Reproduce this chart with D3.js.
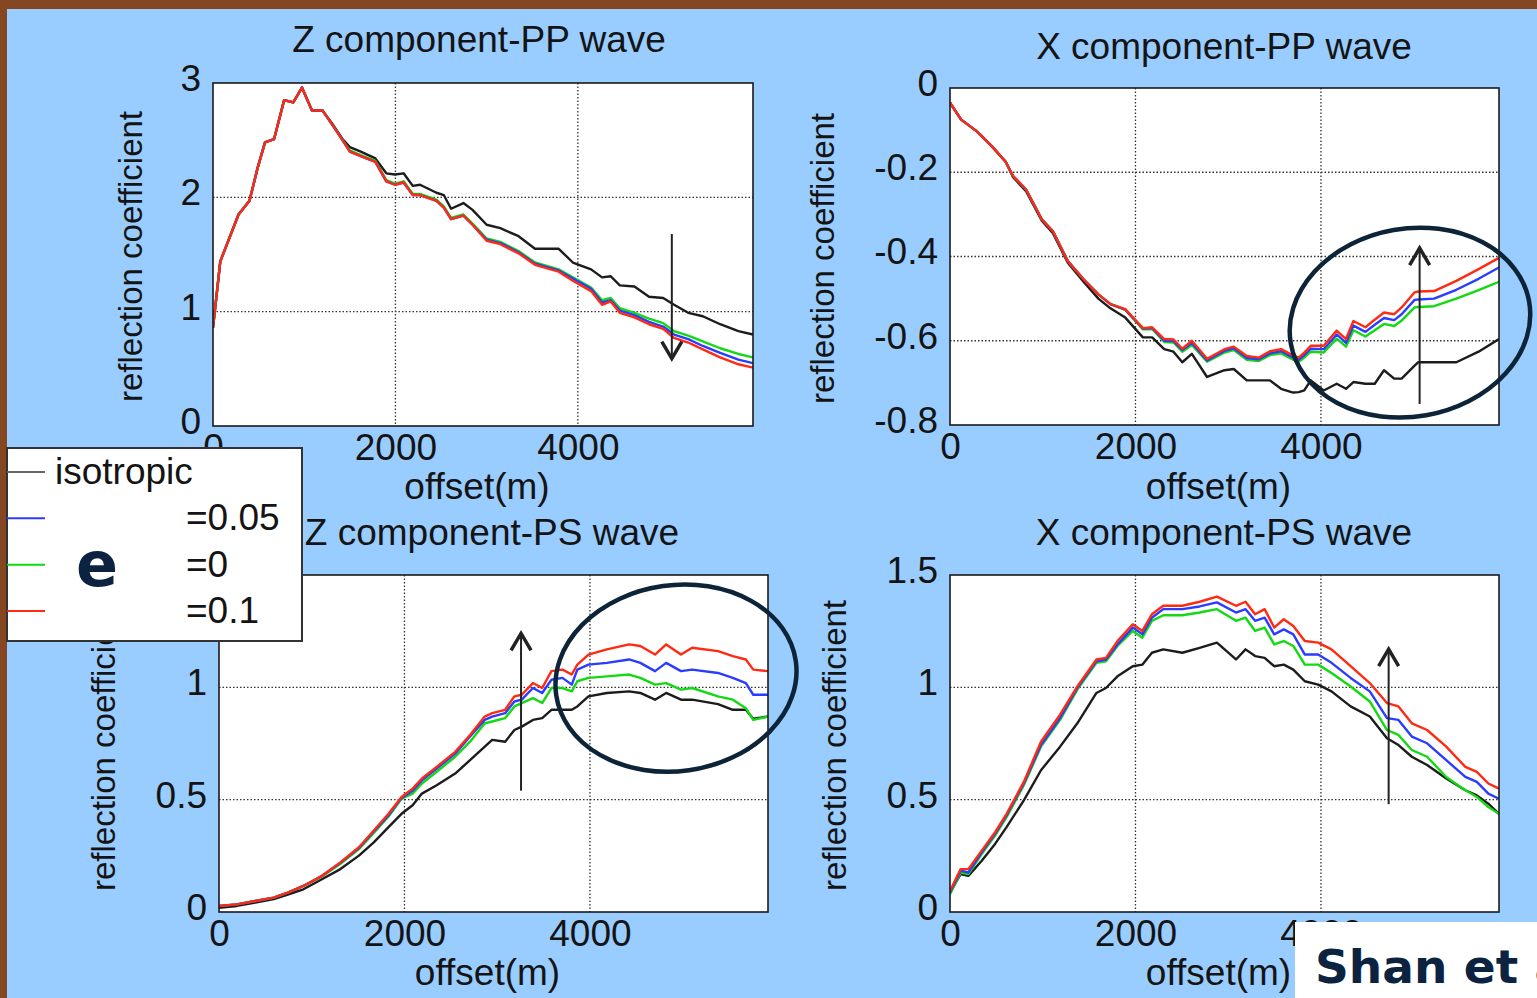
<!DOCTYPE html>
<html>
<head>
<meta charset="utf-8">
<script src="https://cdn.jsdelivr.net/npm/d3@7"></script>
<style>
  body { margin: 0; background: #854622; }
  svg { display: block; }
  text { font-family: "Liberation Sans", Arial, Helvetica, sans-serif; fill: #141414; }
</style>
</head>
<body>
<svg id="fig" width="1537" height="998"></svg>
<script>
// ---- data (offset in m, reflection coefficient) ----
const seriesNames = ["isotropic", "=0.05", "=0", "=0.1"];
const seriesColors = ["#1c1c1c", "#2a3cff", "#12d912", "#ff2a12"];

// Z component - PP wave
const xZPP = [0, 80, 280, 400, 490, 570, 670, 780, 880, 975, 1085, 1200, 1320, 1420, 1500, 1620, 1780, 1900, 1995, 2090, 2190, 2270, 2450, 2530, 2610, 2745, 2845, 3000, 3150, 3350, 3530, 3790, 3945, 4145, 4265, 4360, 4460, 4620, 4780, 4935, 5055, 5210, 5370, 5560, 5760, 5920];
const zppIso  = [0.86, 1.44, 1.85, 1.97, 2.26, 2.48, 2.51, 2.85, 2.83, 2.96, 2.76, 2.76, 2.63, 2.51, 2.44, 2.40, 2.34, 2.21, 2.20, 2.21, 2.10, 2.11, 2.04, 2.02, 1.90, 1.95, 1.89, 1.76, 1.73, 1.66, 1.55, 1.55, 1.43, 1.37, 1.30, 1.31, 1.23, 1.22, 1.13, 1.12, 1.06, 0.99, 0.96, 0.89, 0.83, 0.80];
const zppD005 = [0.86, 1.44, 1.85, 1.97, 2.26, 2.48, 2.51, 2.85, 2.83, 2.96, 2.76, 2.76, 2.62, 2.50, 2.40, 2.36, 2.31, 2.14, 2.11, 2.13, 2.02, 2.02, 1.97, 1.91, 1.81, 1.84, 1.76, 1.63, 1.60, 1.52, 1.42, 1.36, 1.29, 1.20, 1.08, 1.10, 1.01, 0.97, 0.91, 0.87, 0.80, 0.76, 0.70, 0.64, 0.58, 0.55];
const zppD0   = [0.86, 1.44, 1.85, 1.97, 2.26, 2.48, 2.51, 2.85, 2.83, 2.96, 2.76, 2.76, 2.62, 2.50, 2.41, 2.37, 2.32, 2.15, 2.12, 2.14, 2.03, 2.03, 1.98, 1.92, 1.82, 1.85, 1.77, 1.64, 1.61, 1.53, 1.43, 1.37, 1.30, 1.21, 1.10, 1.12, 1.03, 0.99, 0.94, 0.90, 0.83, 0.79, 0.74, 0.68, 0.63, 0.60];
const zppD01  = [0.86, 1.44, 1.85, 1.97, 2.26, 2.48, 2.51, 2.85, 2.83, 2.96, 2.76, 2.76, 2.62, 2.50, 2.40, 2.36, 2.31, 2.14, 2.11, 2.13, 2.02, 2.02, 1.97, 1.91, 1.81, 1.84, 1.76, 1.62, 1.59, 1.51, 1.41, 1.35, 1.27, 1.18, 1.06, 1.09, 0.99, 0.95, 0.89, 0.85, 0.77, 0.73, 0.67, 0.60, 0.54, 0.51];

// X component - PP wave
const xXPP = [0, 120, 290, 450, 600, 680, 820, 990, 1110, 1270, 1440, 1600, 1730, 1890, 2080, 2180, 2310, 2410, 2505, 2608, 2772, 2960, 3060, 3200, 3330, 3450, 3570, 3700, 3760, 3820, 3890, 4030, 4170, 4270, 4350, 4480, 4580, 4680, 4790, 4870, 5010, 5050, 5220, 5460, 5700, 5920];
const xppIso  = [-0.035, -0.075, -0.103, -0.138, -0.175, -0.212, -0.245, -0.315, -0.345, -0.415, -0.460, -0.500, -0.523, -0.545, -0.592, -0.592, -0.620, -0.626, -0.651, -0.631, -0.686, -0.670, -0.667, -0.694, -0.694, -0.694, -0.714, -0.723, -0.722, -0.718, -0.694, -0.718, -0.702, -0.714, -0.698, -0.702, -0.702, -0.670, -0.690, -0.690, -0.659, -0.651, -0.651, -0.651, -0.626, -0.596];
const xppD005 = [-0.035, -0.075, -0.103, -0.138, -0.175, -0.209, -0.241, -0.312, -0.340, -0.411, -0.454, -0.490, -0.513, -0.526, -0.571, -0.570, -0.600, -0.601, -0.622, -0.605, -0.647, -0.624, -0.618, -0.641, -0.644, -0.630, -0.625, -0.640, -0.645, -0.634, -0.619, -0.620, -0.585, -0.605, -0.564, -0.579, -0.562, -0.546, -0.551, -0.537, -0.503, -0.502, -0.500, -0.479, -0.453, -0.426];
const xppD0   = [-0.035, -0.075, -0.103, -0.138, -0.175, -0.209, -0.241, -0.312, -0.340, -0.411, -0.454, -0.490, -0.513, -0.527, -0.573, -0.572, -0.603, -0.604, -0.626, -0.610, -0.650, -0.628, -0.622, -0.645, -0.648, -0.634, -0.630, -0.645, -0.650, -0.640, -0.626, -0.628, -0.595, -0.614, -0.575, -0.590, -0.575, -0.560, -0.565, -0.552, -0.521, -0.520, -0.518, -0.500, -0.480, -0.460];
const xppD01  = [-0.035, -0.075, -0.103, -0.138, -0.175, -0.209, -0.241, -0.312, -0.340, -0.411, -0.454, -0.490, -0.513, -0.525, -0.570, -0.568, -0.596, -0.597, -0.619, -0.600, -0.643, -0.620, -0.614, -0.636, -0.640, -0.625, -0.620, -0.635, -0.640, -0.628, -0.612, -0.612, -0.576, -0.596, -0.553, -0.568, -0.550, -0.533, -0.537, -0.521, -0.485, -0.483, -0.482, -0.458, -0.430, -0.403];

// Z component - PS wave
const xZPS = [0, 192, 391, 591, 750, 910, 1110, 1309, 1509, 1669, 1828, 1968, 2088, 2188, 2347, 2547, 2707, 2866, 2946, 3086, 3185, 3265, 3385, 3485, 3585, 3704, 3804, 3864, 3984, 4183, 4423, 4543, 4702, 4822, 4982, 5102, 5381, 5541, 5681, 5761, 5920];
const zpsIso  = [0.019, 0.027, 0.042, 0.057, 0.079, 0.101, 0.146, 0.191, 0.251, 0.310, 0.378, 0.437, 0.475, 0.527, 0.564, 0.616, 0.676, 0.736, 0.766, 0.758, 0.810, 0.825, 0.855, 0.863, 0.900, 0.900, 0.900, 0.915, 0.960, 0.975, 0.982, 0.975, 0.945, 0.975, 0.945, 0.945, 0.925, 0.900, 0.900, 0.860, 0.870];
const zpsD005 = [0.027, 0.034, 0.049, 0.064, 0.087, 0.116, 0.160, 0.219, 0.285, 0.358, 0.430, 0.508, 0.540, 0.586, 0.638, 0.705, 0.781, 0.855, 0.870, 0.885, 0.937, 0.945, 0.997, 0.975, 1.034, 1.042, 1.012, 1.079, 1.101, 1.109, 1.124, 1.109, 1.072, 1.109, 1.072, 1.079, 1.064, 1.042, 1.019, 0.967, 0.967];
const zpsD0   = [0.027, 0.034, 0.049, 0.064, 0.087, 0.116, 0.158, 0.215, 0.280, 0.352, 0.425, 0.504, 0.527, 0.572, 0.624, 0.691, 0.758, 0.840, 0.848, 0.863, 0.915, 0.930, 0.952, 0.930, 0.997, 0.997, 0.982, 1.027, 1.042, 1.049, 1.057, 1.042, 1.012, 1.019, 0.990, 0.997, 0.960, 0.945, 0.907, 0.855, 0.870];
const zpsD01  = [0.027, 0.034, 0.049, 0.064, 0.087, 0.116, 0.161, 0.221, 0.288, 0.363, 0.437, 0.512, 0.549, 0.594, 0.646, 0.713, 0.788, 0.870, 0.885, 0.900, 0.960, 0.967, 1.019, 0.997, 1.072, 1.079, 1.057, 1.101, 1.146, 1.169, 1.191, 1.184, 1.146, 1.191, 1.146, 1.176, 1.161, 1.139, 1.124, 1.079, 1.072];

// X component - PS wave
const xXPS = [0, 115, 198, 342, 486, 610, 796, 981, 1187, 1373, 1579, 1682, 1806, 1971, 2074, 2177, 2300, 2506, 2692, 2878, 3084, 3187, 3290, 3393, 3496, 3599, 3702, 3826, 3970, 4114, 4320, 4527, 4712, 4836, 4980, 5145, 5351, 5557, 5681, 5805, 5920];
const xpsIso  = [0.087, 0.169, 0.161, 0.228, 0.303, 0.378, 0.497, 0.631, 0.736, 0.840, 0.975, 0.997, 1.049, 1.094, 1.101, 1.154, 1.169, 1.154, 1.176, 1.199, 1.124, 1.169, 1.139, 1.131, 1.094, 1.101, 1.079, 1.027, 1.012, 0.982, 0.915, 0.870, 0.773, 0.743, 0.691, 0.654, 0.594, 0.542, 0.519, 0.482, 0.437];
const xpsD005 = [0.087, 0.184, 0.176, 0.266, 0.348, 0.430, 0.572, 0.743, 0.863, 0.997, 1.116, 1.124, 1.191, 1.266, 1.236, 1.310, 1.348, 1.348, 1.360, 1.378, 1.333, 1.348, 1.296, 1.310, 1.236, 1.258, 1.236, 1.146, 1.146, 1.109, 1.042, 0.982, 0.863, 0.855, 0.781, 0.751, 0.676, 0.601, 0.579, 0.527, 0.504];
const xpsD0   = [0.079, 0.176, 0.169, 0.258, 0.340, 0.422, 0.564, 0.736, 0.855, 0.990, 1.109, 1.116, 1.184, 1.251, 1.221, 1.296, 1.321, 1.321, 1.333, 1.348, 1.296, 1.310, 1.251, 1.266, 1.191, 1.206, 1.184, 1.101, 1.101, 1.064, 1.004, 0.937, 0.810, 0.788, 0.721, 0.691, 0.601, 0.542, 0.512, 0.467, 0.437];
const xpsD01  = [0.094, 0.191, 0.191, 0.273, 0.355, 0.437, 0.579, 0.758, 0.878, 1.004, 1.124, 1.131, 1.206, 1.281, 1.251, 1.325, 1.363, 1.363, 1.381, 1.404, 1.363, 1.381, 1.325, 1.348, 1.266, 1.303, 1.273, 1.206, 1.199, 1.169, 1.094, 1.019, 0.930, 0.915, 0.840, 0.810, 0.736, 0.646, 0.624, 0.572, 0.549];

const xTicks = [0, 2000, 4000];
const xMax = 5920;

// ---- layout ----
const panels = [
  { title: "Z component-PP wave", left: 213, right: 753, top: 83, bottom: 426, ydom: [0, 3], yticks: [0, 1, 2, 3], ylabels: [0, 1, 2, 3],
    xs: xZPP, ys: [zppIso, zppD0, zppD005, zppD01], titleX: 479, titleY: 52, ylabX: 131, labY: 499,
    arrow: { x: 5030, y1: 1.68, y2: 0.59 } },
  { title: "X component-PP wave", left: 950, right: 1499, top: 88, bottom: 425, ydom: [-0.8, 0], yticks: [-0.8, -0.6, -0.4, -0.2, 0], ylabels: [-0.8, -0.6, -0.4, -0.2, 0],
    xs: xXPP, ys: [xppIso, xppD0, xppD005, xppD01], titleX: 1224, titleY: 59, ylabX: 823, labY: 499,
    arrow: { x: 5064, y1: -0.75, y2: -0.38 }, ellipse: { x: 4960, y: -0.557, rx: 121, ry: 94, rot: -10 } },
  // the 1.5 label of this panel sits under the legend in the source figure
  { title: "Z component-PS wave", left: 219, right: 768, top: 575, bottom: 912, ydom: [0, 1.5], yticks: [0, 0.5, 1, 1.5], ylabels: [0, 0.5, 1],
    xs: xZPS, ys: [zpsIso, zpsD0, zpsD005, zpsD01], titleX: 492, titleY: 545, ylabX: 104, labY: 985,
    arrow: { x: 3257, y1: 0.54, y2: 1.24 }, ellipse: { x: 4928, y: 1.041, rx: 121, ry: 93, rot: -8 } },
  { title: "X component-PS wave", left: 950, right: 1499, top: 575, bottom: 912, ydom: [0, 1.5], yticks: [0, 0.5, 1, 1.5], ylabels: [0, 0.5, 1, 1.5],
    xs: xXPS, ys: [xpsIso, xpsD0, xpsD005, xpsD01], titleX: 1224, titleY: 545, ylabX: 835, labY: 985,
    arrow: { x: 4730, y1: 0.48, y2: 1.17 } }
];
const lineOrder = [0, 2, 1, 3]; // index in seriesNames for ys[0..3]

const svg = d3.select("#fig");
svg.append("rect").attr("width", 1537).attr("height", 998).attr("fill", "#854622");
svg.append("rect").attr("x", 7).attr("y", 9).attr("width", 1530).attr("height", 989).attr("fill", "#99ccff");

panels.forEach(function(p, i) {
  const x = d3.scaleLinear().domain([0, xMax]).range([p.left, p.right]);
  const y = d3.scaleLinear().domain(p.ydom).range([p.bottom, p.top]);
  const g = svg.append("g");

  g.append("rect").attr("x", p.left).attr("y", p.top)
    .attr("width", p.right - p.left).attr("height", p.bottom - p.top).attr("fill", "#fff");

  // dotted grid
  g.selectAll(".gx").data(xTicks.slice(1)).join("line")
    .attr("x1", d => x(d)).attr("x2", d => x(d)).attr("y1", p.top).attr("y2", p.bottom)
    .attr("stroke", "#333").attr("stroke-width", 1.3).attr("stroke-dasharray", "1.5,2");
  g.selectAll(".gy").data(p.yticks.slice(1, -1)).join("line")
    .attr("x1", p.left).attr("x2", p.right).attr("y1", d => y(d)).attr("y2", d => y(d))
    .attr("stroke", "#333").attr("stroke-width", 1.3).attr("stroke-dasharray", "1.5,2");

  // curves
  const clipId = "clip" + i;
  svg.append("clipPath").attr("id", clipId).append("rect")
    .attr("x", p.left).attr("y", p.top).attr("width", p.right - p.left).attr("height", p.bottom - p.top);
  const line = d3.line().x(d => x(d[0])).y(d => y(d[1]));
  p.ys.forEach(function(vals, k) {
    g.append("path")
      .attr("clip-path", "url(#" + clipId + ")")
      .attr("d", line(p.xs.map((xv, j) => [xv, vals[j]])))
      .attr("fill", "none")
      .attr("stroke", seriesColors[lineOrder[k]])
      .attr("stroke-width", 2.4)
      .attr("stroke-linejoin", "round");
  });

  // frame
  g.append("rect").attr("x", p.left).attr("y", p.top)
    .attr("width", p.right - p.left).attr("height", p.bottom - p.top)
    .attr("fill", "none").attr("stroke", "#1a1a1a").attr("stroke-width", 1.6);

  // axes
  const ax = g.append("g").attr("transform", "translate(0," + p.bottom + ")")
    .call(d3.axisBottom(x).tickValues(xTicks).tickSize(0).tickPadding(8).tickFormat(d3.format("d")));
  const ay = g.append("g").attr("transform", "translate(" + p.left + ",0)")
    .call(d3.axisLeft(y).tickValues(p.ylabels).tickSize(0).tickPadding(12).tickFormat(d => String(d)));
  [ax, ay].forEach(function(a) {
    a.select(".domain").remove();
    a.selectAll("text").attr("font-size", 37).style("fill", "#141414");
  });
  ay.selectAll("text").attr("dy", "0.2em");

  // titles and labels
  g.append("text").attr("x", p.titleX).attr("y", p.titleY).attr("text-anchor", "middle")
    .attr("font-size", 37).text(p.title);
  g.append("text").attr("x", (p.left + p.right) / 2 - 6).attr("y", p.labY).attr("text-anchor", "middle")
    .attr("font-size", 37).text("offset(m)");
  g.append("text").attr("transform", "translate(" + (p.ylabX + 11) + "," + ((p.top + p.bottom) / 2 + 2) + ") rotate(-90)")
    .attr("text-anchor", "middle").attr("font-size", 33).text("reflection coefficient");

  // annotations
  const a = p.arrow;
  const ax1 = x(a.x), ya = y(a.y1), yb = y(a.y2), dir = yb > ya ? 1 : -1;
  g.append("line").attr("x1", ax1).attr("x2", ax1).attr("y1", ya).attr("y2", yb)
    .attr("stroke", "#222").attr("stroke-width", 2);
  g.append("path")
    .attr("d", "M" + (ax1 - 10) + "," + (yb - dir * 17) + "L" + ax1 + "," + yb + "L" + (ax1 + 10) + "," + (yb - dir * 17))
    .attr("fill", "none").attr("stroke", "#222").attr("stroke-width", 3.5);

  if (p.ellipse) {
    const e = p.ellipse;
    svg.append("ellipse")
      .attr("transform", "translate(" + x(e.x) + "," + y(e.y) + ") rotate(" + e.rot + ")")
      .attr("rx", e.rx).attr("ry", e.ry)
      .attr("fill", "none").attr("stroke", "#0d2438").attr("stroke-width", 4.5);
  }
});

// legend
const lg = svg.append("g");
lg.append("rect").attr("x", 7).attr("y", 448).attr("width", 295).attr("height", 193)
  .attr("fill", "#fff").attr("stroke", "#333").attr("stroke-width", 2);
const legendY = d3.scalePoint().domain(seriesNames).range([472, 611]);
seriesNames.forEach(function(name, k) {
  lg.append("line").attr("x1", 7).attr("x2", 45).attr("y1", legendY(name)).attr("y2", legendY(name))
    .attr("stroke", k === 0 ? "#666" : seriesColors[k]).attr("stroke-width", 2);
  lg.append("text").attr("x", k === 0 ? 55 : 186).attr("y", legendY(name) + 12)
    .attr("font-size", 37).text(name);
});
lg.append("text").attr("x", 97).attr("y", 586).attr("text-anchor", "middle")
  .attr("font-size", 62).attr("font-weight", "bold")
  .style("fill", "#0b2340").style("font-family", '"DejaVu Sans", Verdana, sans-serif').text("e");

// citation box
svg.append("rect").attr("x", 1295).attr("y", 922).attr("width", 242).attr("height", 76).attr("fill", "#fff");
svg.append("text").attr("x", 1315).attr("y", 983)
  .attr("font-size", 47).attr("font-weight", "bold")
  .style("fill", "#0b2340").style("font-family", '"DejaVu Sans", Verdana, sans-serif').text("Shan et al.");
</script>
</body>
</html>
